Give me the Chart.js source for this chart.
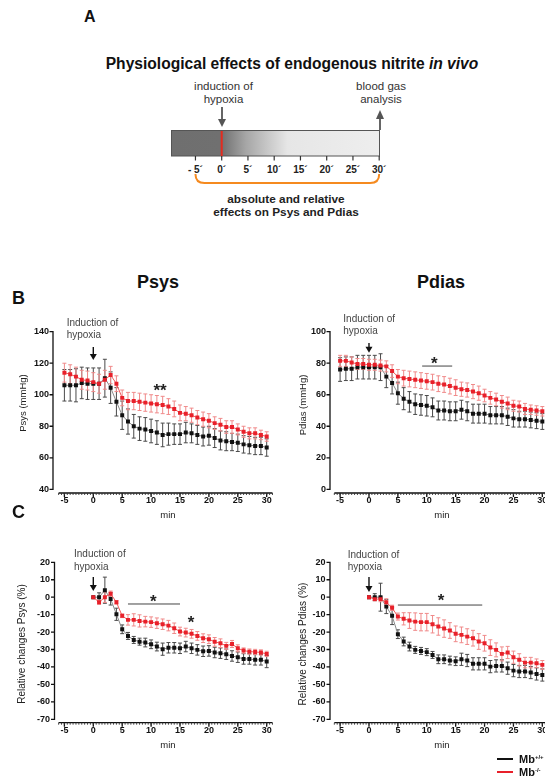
<!DOCTYPE html>
<html><head><meta charset="utf-8">
<script src="https://cdn.jsdelivr.net/npm/chart.js@4.4.1/dist/chart.umd.min.js"></script>
<style>
html,body{margin:0;padding:0;background:#fff;overflow:hidden;width:545px;height:779px;}
#root{position:relative;width:545px;height:779px;overflow:hidden;font-family:"Liberation Sans",Arial,Helvetica,sans-serif;color:#111;}
canvas{position:absolute;}
.t{position:absolute;white-space:nowrap;line-height:1;}
.t sup{font-size:0.55em;vertical-align:0.7em;line-height:0;}
</style></head><body><div id="root"></div>
<script>
// ---------------- DATA ----------------
const minutesAbs = [-5,-4,-3,-2,-1,0,1,2,3,4,5,6,7,8,9,10,11,12,13,14,15,16,17,18,19,20,21,22,23,24,25,26,27,28,29,30];
const minutesRel = [0,1,2,3,4,5,6,7,8,9,10,11,12,13,14,15,16,17,18,19,20,21,22,23,24,25,26,27,28,29,30];

// Panel B – Psys (mmHg)
const psysWT   = [106,106,106,107.5,107,107,107,110.5,104.5,95.5,87,83,80,78.5,78,77,76,74.5,75,75,75,76,75.5,74.5,73.5,74,72.5,71,70.5,70,69.5,68.5,68,67.5,67.5,66.5];
const psysWTsd = [10,10,10.5,10,10,10,10,12,10,9,9,8,7.5,7.5,7.5,7.5,7.5,7.5,7,6.5,6.5,6.5,6,6,6,6,6,6,6,5.5,5.5,5.5,5.5,5.5,5.5,5.5];
const psysKO   = [114,113,111.5,109.5,109,108,107,109.5,112.5,107,98,96,96,95.5,95,94.5,94,93.5,92.5,91,88.5,88,87,85.5,84.5,83.5,82,81,79.5,79.5,78,76.5,75.5,75.5,74.5,73.5];
const psysKOsd = [6,6,6,6,6,6,6,6,5.5,5,5,5.5,5.5,5.5,5.5,5.5,5.5,5.5,5,5,5,4.5,4.5,4.5,4.5,4.5,4,4,4,4,3.5,3.5,3.5,3.5,3,3];

// Panel B – Pdias (mmHg)
const pdiasWT   = [76,76.5,76.5,77.5,77.5,77.5,77.5,77.5,71.5,67.5,61,57.5,55.5,54,53.5,53,52,50,50,49.5,49.5,50.5,49.5,48,48,48,47,47,47,46,45,44.5,44.5,44,43.5,43];
const pdiasWTsd = [7.5,7.5,7.5,7.5,7.5,7.5,7.5,8.5,7,7,7,7,6.5,6.5,6.5,6.5,6,6,6,6,6,6,6,6,6,6,5.5,5.5,5.5,5.5,5.5,5,5,5,5,5];
const pdiasKO   = [81.5,81.5,80.5,79.5,79.5,79,79,78.5,78,75,71.5,70.5,70,69.5,69,68.5,68,67,66.5,65.5,64.5,63.5,63,62,61,59.5,58,57,55.5,54.5,53,52.5,51,50.5,50,49.5];
const pdiasKOsd = [3.5,3.5,3.5,3.5,3.5,3.5,3.5,3.5,3.5,4,4.5,5,5,5,5,5,5,5,5,5,5,4.5,4.5,4.5,4.5,4,4,4,4,4,3.5,3.5,3.5,3,3,3];

// Panel C – relative changes Psys (%)
const relPsysWT   = [0,0,4,-1,-9.8,-18.4,-22.2,-24.5,-25.5,-26,-27,-28.3,-29.8,-29,-29,-29.3,-28.3,-29.3,-30.2,-31,-30.8,-31.7,-32.1,-32.7,-33.7,-34.4,-35.4,-35.4,-35.9,-35.9,-36.9];
const relPsysWTsd = [0,2.5,7.5,3.5,3.5,2.5,2,2,2,2.5,2.5,2.5,3.5,3,3,3,3,3,3,3,3,3,3,3,3,3,3,3,3,3,3.5];
const relPsysKO   = [0,-2.9,0,2,-2.9,-10.7,-13,-13,-13.6,-14,-14.3,-14.9,-15.5,-16.3,-17.8,-19.7,-20.3,-21,-22.2,-23.5,-24.1,-25.6,-26.4,-27.9,-26.8,-29.3,-30.6,-31.2,-31.4,-31.7,-32.5];
const relPsysKOsd = [0,1.2,3,1.5,1,1,3,3.5,3.5,3,3,3,3,3,3,2.5,2.5,2.5,2.5,2.5,2.5,2.5,2.5,2,2,2,1.5,1.5,1.5,1.5,1.5];

// Panel C – relative changes Pdias (%)
const relPdiasWT   = [0,0,0,-5.4,-10.7,-21.2,-25.4,-28.3,-30.2,-30.8,-31.5,-33.1,-35.6,-35.6,-36.3,-36.7,-35.6,-36.3,-38.2,-38.2,-38.2,-39.8,-39.4,-39.4,-40.7,-42.1,-42.6,-42.6,-43.2,-44,-44.6];
const relPdiasWTsd = [0,2,8,4,5,2.5,2.5,2.5,2,2,2,2,2.5,2.5,2.5,2.5,3.5,3.5,3.5,3.5,3.5,3.5,3.5,3.5,3.5,3.5,3.5,3.5,3.5,3.5,3.5];
const relPdiasKO   = [0,-1.1,-1.1,-2.9,-6.1,-11.1,-12.4,-13.4,-14,-14.3,-14.3,-15.5,-16.8,-18,-19.1,-21,-21.6,-22.6,-23.5,-25.4,-26.4,-28.9,-30.2,-32.5,-31.7,-34.4,-35.9,-37.5,-37.5,-37.9,-38.8];
const relPdiasKOsd = [0,1,1.5,2,1.5,2,3.5,4.5,5,5,5,5,5,5,4.5,4.5,4.5,4.5,4.5,4.5,4.5,4.5,4,4,3.5,3.5,3.5,3,3,2.5,2.5];

// Tick values / labels
const xTicks = [-5,0,5,10,15,20,25,30];
const yTicksPsys  = [40,60,80,100,120,140];
const yTicksPdias = [0,20,40,60,80,100];
const yTicksRel   = [20,10,0,-10,-20,-30,-40,-50,-60,-70];
const schemaTicks = [-5,0,5,10,15,20,25,30];
const schemaTickLabels = ['- 5\u00B4','0\u00B4','5\u00B4','10\u00B4','15\u00B4','20\u00B4','25\u00B4','30\u00B4'];
const legendLabels = ['Mb<sup>+/+</sup>','Mb<sup>-/-</sup>'];

// ---------------- STYLE ----------------
const FONT = '"Liberation Sans", Arial, Helvetica, sans-serif';
Chart.defaults.font.family = FONT;
const STY = {
  wt: {point:'#111111', line:'#8a8a8a', err:'#4a4a4a'},
  ko: {point:'#e8202a', line:'#f25a5a', err:'#f08a8a'}
};
const root = document.getElementById('root');

function addText(html, x, y, o) {
  o = o || {};
  const fs = o.size || 10;
  const d = document.createElement('div');
  d.className = 't';
  d.innerHTML = html;
  d.style.fontSize = fs + 'px';
  d.style.fontWeight = o.bold ? 'bold' : 'normal';
  d.style.color = o.color || '#111';
  d.style.top = (y - (o.vc !== undefined ? o.vc : 0.5) * fs) + 'px';
  if (o.rotate) {
    d.style.left = x + 'px';
    d.style.top = y + 'px';
    d.style.transform = 'translate(-50%,-50%) rotate(-90deg)';
  } else if (o.align === 'center') {
    d.style.left = x + 'px';
    d.style.transform = 'translateX(-50%)';
  } else {
    d.style.left = x + 'px';
  }
  root.appendChild(d);
  return d;
}

// ---------------- PANEL A (schematic) ----------------
(function () {
  const sx = v => 221.7 + v * 5.25;
  let s = '<svg width="545" height="230" style="position:absolute;left:0;top:0" font-family=\'' + FONT.replace(/"/g,'') + '\'>';
  s += '<defs><linearGradient id="gb" gradientUnits="userSpaceOnUse" x1="171" y1="0" x2="379" y2="0">' +
       '<stop offset="0" stop-color="#6f6f6f"/><stop offset="0.244" stop-color="#707070"/>' +
       '<stop offset="0.36" stop-color="#a6a6a6"/><stop offset="0.56" stop-color="#e6e6e6"/>' +
       '<stop offset="1" stop-color="#eeeeee"/></linearGradient></defs>';
  s += '<text x="84" y="22" font-size="16" font-weight="bold" fill="#111">A</text>';
  s += '<text x="292" y="68.5" text-anchor="middle" font-size="15.6" font-weight="bold" fill="#111">Physiological effects of endogenous nitrite <tspan font-style="italic">in vivo</tspan></text>';
  s += '<text x="223.5" y="90" text-anchor="middle" font-size="11.5" fill="#333">induction of</text>';
  s += '<text x="223.5" y="103" text-anchor="middle" font-size="11.5" fill="#333">hypoxia</text>';
  s += '<text x="381" y="90" text-anchor="middle" font-size="11.5" fill="#333">blood gas</text>';
  s += '<text x="381" y="103" text-anchor="middle" font-size="11.5" fill="#333">analysis</text>';
  s += '<line x1="222" y1="107" x2="222" y2="121" stroke="#555" stroke-width="1.8"/><polygon points="218,119 226,119 222,127" fill="#555"/>';
  s += '<line x1="380" y1="117" x2="380" y2="130" stroke="#555" stroke-width="1.8"/><polygon points="376,119 384,119 380,110" fill="#555"/>';
  s += '<rect x="171.5" y="130.5" width="208" height="25.5" fill="url(#gb)" stroke="#555" stroke-width="1"/>';
  s += '<line x1="221.7" y1="131" x2="221.7" y2="156" stroke="#e52b1f" stroke-width="2"/>';
  schemaTicks.forEach((v, i) => {
    const x = sx(v);
    s += '<line x1="' + x + '" y1="156" x2="' + x + '" y2="160.5" stroke="#333" stroke-width="1.2"/>';
    s += '<text x="' + x + '" y="172.5" text-anchor="middle" font-size="10" font-weight="bold" fill="#222">' + schemaTickLabels[i] + '</text>';
  });
  const bx0 = sx(-5), bx1 = sx(30);
  s += '<path d="M' + bx0 + ',174 Q' + bx0 + ',183 ' + (bx0 + 9) + ',183 L' + (bx1 - 9) + ',183 Q' + bx1 + ',183 ' + bx1 + ',174" fill="none" stroke="#f58a1f" stroke-width="2"/>';
  s += '<text x="286" y="203" text-anchor="middle" font-size="11.8" font-weight="bold" fill="#222">absolute and relative</text>';
  s += '<text x="286" y="216" text-anchor="middle" font-size="11.8" font-weight="bold" fill="#222">effects on Psys and Pdias</text>';
  s += '</svg>';
  root.insertAdjacentHTML('beforeend', s);
})();

// ---------------- CHART PANELS ----------------
function makePanel(cfg) {
  const ppu = (cfg.yBotPx - cfg.yTopPx) / (cfg.yTopVal - cfg.yBotVal);
  const yMin = cfg.yBotVal - (cfg.xAxisY - cfg.yBotPx) / ppu;
  const xMin = (cfg.yAxisX - cfg.x0px) / cfg.pxPerMin;
  const chartRightPx = cfg.x0px + cfg.xMaxVal * cfg.pxPerMin;
  const cv = document.createElement('canvas');
  cv.width = cfg.width; cv.height = cfg.height;
  cv.style.left = cfg.left + 'px'; cv.style.top = cfg.top + 'px';
  cv.style.width = cfg.width + 'px'; cv.style.height = cfg.height + 'px';
  root.appendChild(cv);
  const yW = cfg.yAxisX - cfg.left;
  const xH = cfg.top + cfg.height - cfg.xAxisY;

  const axesPlugin = {
    id: 'prismAxes',
    beforeDatasetsDraw(chart) {
      const {ctx, chartArea, scales: {x, y}} = chart;
      ctx.save();
      ctx.strokeStyle = '#111';
      ctx.lineWidth = 1.3;
      const ax = chartArea.left;
      ctx.beginPath();
      ctx.moveTo(ax, y.getPixelForValue(cfg.yTopVal) - 0.6);
      ctx.lineTo(ax, y.getPixelForValue(cfg.yBotVal) + 0.6);
      cfg.yTicks.forEach(v => { const py = y.getPixelForValue(v); ctx.moveTo(ax - 3.5, py); ctx.lineTo(ax, py); });
      ctx.stroke();
      const ay = chartArea.bottom;
      ctx.beginPath();
      ctx.moveTo(x.getPixelForValue(cfg.xFrom), ay);
      ctx.lineTo(x.getPixelForValue(cfg.xTo), ay);
      xTicks.forEach(v => { const px = x.getPixelForValue(v); ctx.moveTo(px, ay); ctx.lineTo(px, ay + 4); });
      ctx.stroke();
      ctx.lineWidth = 0.9;
      ctx.strokeStyle = '#333';
      ctx.beginPath();
      for (let v = cfg.xFrom; v <= cfg.xTo + 1e-6; v += 0.5) {
        const px = x.getPixelForValue(v);
        ctx.moveTo(px, ay); ctx.lineTo(px, ay + 2);
      }
      ctx.stroke();
      // error bars (black first, then red)
      const ds = chart.data.datasets;
      for (let k = ds.length - 1; k >= 0; k--) {
        const d = ds[k];
        ctx.strokeStyle = d.errColor;
        ctx.lineWidth = 1;
        ctx.beginPath();
        d.data.forEach((p, i) => {
          const s = d.sd[i];
          if (!s) return;
          const px = x.getPixelForValue(p.x);
          const y1 = y.getPixelForValue(p.y + s), y2 = y.getPixelForValue(p.y - s);
          ctx.moveTo(px, y1); ctx.lineTo(px, y2);
          ctx.moveTo(px - 2, y1); ctx.lineTo(px + 2, y1);
          ctx.moveTo(px - 2, y2); ctx.lineTo(px + 2, y2);
        });
        ctx.stroke();
      }
      ctx.restore();
    },
    afterDraw(chart) {
      const {ctx, scales: {x, y}} = chart;
      ctx.save();
      // hypoxia arrow
      const px = x.getPixelForValue(cfg.arrow.x);
      const yTop = y.getPixelForValue(cfg.arrow.from), yTip = y.getPixelForValue(cfg.arrow.to);
      ctx.strokeStyle = '#111'; ctx.fillStyle = '#111'; ctx.lineWidth = 1.4;
      ctx.beginPath(); ctx.moveTo(px, yTop); ctx.lineTo(px, yTip - 5); ctx.stroke();
      ctx.beginPath(); ctx.moveTo(px - 3.5, yTip - 6); ctx.lineTo(px + 3.5, yTip - 6); ctx.lineTo(px, yTip); ctx.closePath(); ctx.fill();
      // significance line
      if (cfg.sig) {
        ctx.strokeStyle = '#444'; ctx.lineWidth = 1;
        const sy = y.getPixelForValue(cfg.sig.y);
        ctx.beginPath(); ctx.moveTo(x.getPixelForValue(cfg.sig.from), sy); ctx.lineTo(x.getPixelForValue(cfg.sig.to), sy); ctx.stroke();
      }
      ctx.restore();
    }
  };

  const datasets = cfg.series.map(s => ({
    data: s.x.map((m, i) => ({x: m, y: s.y[i]})),
    sd: s.sd,
    errColor: STY[s.kind].err,
    borderColor: STY[s.kind].line,
    borderWidth: 1,
    pointStyle: 'rect',
    pointRadius: 2.8,
    pointBorderWidth: 0,
    pointBackgroundColor: STY[s.kind].point,
    pointBorderColor: STY[s.kind].point,
    tension: 0,
    fill: false
  }));

  const tickFont = {family: FONT, size: 9, weight: 'bold'};
  new Chart(cv, {
    type: 'line',
    data: {datasets},
    options: {
      responsive: false, animation: false, devicePixelRatio: 1,
      events: [],
      layout: {padding: {top: cfg.yTopPx - cfg.top, right: cfg.left + cfg.width - chartRightPx, left: 0, bottom: 0}},
      plugins: {legend: {display: false}, tooltip: {enabled: false}},
      scales: {
        x: {
          type: 'linear', min: xMin, max: cfg.xMaxVal,
          afterBuildTicks: sc => { sc.ticks = xTicks.map(v => ({value: v})); },
          afterFit: sc => { sc.height = xH; },
          grid: {display: false, drawTicks: false}, border: {display: false},
          ticks: {padding: cfg.xPad, font: tickFont, color: '#111', maxRotation: 0, autoSkip: false, callback: v => String(v)}
        },
        y: {
          type: 'linear', min: yMin, max: cfg.yTopVal,
          afterBuildTicks: sc => { sc.ticks = cfg.yTicks.map(v => ({value: v})); },
          afterFit: sc => { sc.width = yW; },
          grid: {display: false, drawTicks: false}, border: {display: false},
          ticks: {padding: cfg.yPad, font: tickFont, color: '#111', autoSkip: false, callback: v => String(v)}
        }
      }
    },
    plugins: [axesPlugin]
  });
}

makePanel({
  left: 0, top: 310, width: 280, height: 220,
  yAxisX: 53, yTopVal: 140, yTopPx: 331.7, yBotVal: 40, yBotPx: 489.3, xAxisY: 493,
  x0px: 93.3, pxPerMin: 5.78, xMaxVal: 31.5, xFrom: -6, xTo: 31, xPad: 2, yPad: 4,
  yTicks: yTicksPsys,
  series: [{x: minutesAbs, y: psysKO, sd: psysKOsd, kind: 'ko'}, {x: minutesAbs, y: psysWT, sd: psysWTsd, kind: 'wt'}],
  arrow: {x: 0, from: 130.3, to: 122}
});
makePanel({
  left: 280, top: 310, width: 275, height: 220,
  yAxisX: 330, yTopVal: 100, yTopPx: 331.7, yBotVal: 0, yBotPx: 489.3, xAxisY: 493,
  x0px: 369, pxPerMin: 5.78, xMaxVal: 31.5, xFrom: -6, xTo: 31, xPad: 2, yPad: 4,
  yTicks: yTicksPdias,
  series: [{x: minutesAbs, y: pdiasKO, sd: pdiasKOsd, kind: 'ko'}, {x: minutesAbs, y: pdiasWT, sd: pdiasWTsd, kind: 'wt'}],
  arrow: {x: 0, from: 92.8, to: 86.7},
  sig: {y: 78.2, from: 9.2, to: 14.4}
});
makePanel({
  left: 0, top: 545, width: 280, height: 200,
  yAxisX: 54.5, yTopVal: 20, yTopPx: 562.3, yBotVal: -70, yBotPx: 719.3, xAxisY: 722.7,
  x0px: 93.3, pxPerMin: 5.78, xMaxVal: 31.5, xFrom: -6, xTo: 31, xPad: 2.7, yPad: 4.5,
  yTicks: yTicksRel,
  series: [{x: minutesRel, y: relPsysKO, sd: relPsysKOsd, kind: 'ko'}, {x: minutesRel, y: relPsysWT, sd: relPsysWTsd, kind: 'wt'}],
  arrow: {x: 0, from: 11.6, to: 3.5},
  sig: {y: -3.9, from: 6, to: 15}
});
makePanel({
  left: 280, top: 545, width: 275, height: 200,
  yAxisX: 330, yTopVal: 20, yTopPx: 562.3, yBotVal: -70, yBotPx: 719.3, xAxisY: 722.7,
  x0px: 369, pxPerMin: 5.78, xMaxVal: 31.5, xFrom: -6, xTo: 31, xPad: 2.7, yPad: 4.5,
  yTicks: yTicksRel,
  series: [{x: minutesRel, y: relPdiasKO, sd: relPdiasKOsd, kind: 'ko'}, {x: minutesRel, y: relPdiasWT, sd: relPdiasWTsd, kind: 'wt'}],
  arrow: {x: 0, from: 11.6, to: 3.0},
  sig: {y: -4.5, from: 5, to: 19.6}
});

// ---------------- TEXT LABELS ----------------
addText('B', 12, 298, {size: 18, bold: true});
addText('C', 12, 512, {size: 18, bold: true});
addText('Psys', 158, 282, {size: 18, bold: true, align: 'center'});
addText('Pdias', 441, 282, {size: 18, bold: true, align: 'center'});

addText('Induction of', 66.7, 322.7, {size: 10, color: '#444'});
addText('hypoxia', 66.7, 335, {size: 10, color: '#444'});
addText('Induction of', 343.3, 319.3, {size: 10, color: '#444'});
addText('hypoxia', 343.3, 331, {size: 10, color: '#444'});
addText('Induction of', 74, 554.3, {size: 10, color: '#444'});
addText('hypoxia', 74, 566.7, {size: 10, color: '#444'});
addText('Induction of', 347.7, 555, {size: 10, color: '#444'});
addText('hypoxia', 347.7, 567, {size: 10, color: '#444'});

addText('Psys (mmHg)', 23, 403, {size: 9.5, rotate: true, color: '#222'});
addText('Pdias (mmHg)', 302.5, 405, {size: 9.5, rotate: true, color: '#222'});
addText('Relative changes Psys (%)', 22, 644, {size: 10, rotate: true, color: '#222'});
addText('Relative changes Pdias (%)', 302.5, 644, {size: 10, rotate: true, color: '#222'});

addText('min', 168, 515, {size: 9.5, align: 'center', color: '#222'});
addText('min', 442, 515, {size: 9.5, align: 'center', color: '#222'});
addText('min', 168, 745, {size: 9.5, align: 'center', color: '#222'});
addText('min', 442, 745, {size: 9.5, align: 'center', color: '#222'});

// significance stars
addText('**', 160, 387, {size: 17, bold: true, align: 'center', color: '#222', vc: 0.27});
addText('*', 434.3, 359.3, {size: 17, bold: true, align: 'center', color: '#222', vc: 0.27});
addText('*', 153.3, 598, {size: 17, bold: true, align: 'center', color: '#222', vc: 0.27});
addText('*', 191, 619, {size: 17, bold: true, align: 'center', color: '#222', vc: 0.27});
addText('*', 441, 597, {size: 17, bold: true, align: 'center', color: '#222', vc: 0.27});

// legend
(function () {
  const cols = ['#111111', '#e8202a'];
  const ys = [759, 772];
  legendLabels.forEach((lab, i) => {
    const ln = document.createElement('div');
    ln.style.cssText = 'position:absolute;left:497px;width:16px;height:2.5px;background:' + cols[i] + ';top:' + (ys[i] - 1.25) + 'px';
    root.appendChild(ln);
    addText(lab, 519, ys[i], {size: 11, bold: true, color: '#111'});
  });
})();
</script>
</body></html>
